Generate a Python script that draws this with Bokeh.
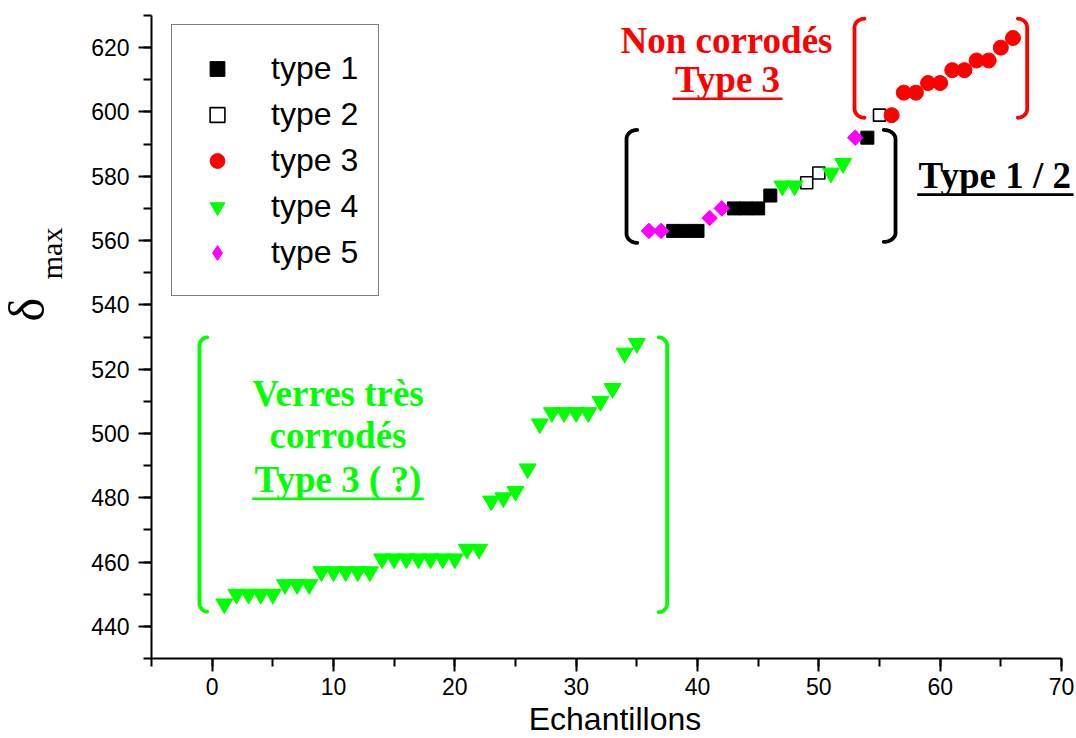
import math
from bokeh.plotting import figure
from bokeh.models import Range1d, SingleIntervalTicker
from bokeh.core.properties import value
from bokeh.embed import file_html
from bokeh.resources import INLINE

# ---------------- data ----------------
type1_x = [38, 39, 40, 43, 44, 45, 46, 54]
type1_y = [563, 563, 563, 570, 570, 570, 574, 592]

type2_x = [49, 50, 55]
type2_y = [578, 581, 599]

type3_x = [56, 57, 58, 59, 60, 61, 62, 63, 64, 65, 66]
type3_y = [599, 606, 606, 609, 609, 613, 613, 616, 616, 620, 623]

type4_x = [1, 2, 3, 4, 5, 6, 7, 8, 9, 10, 11, 12, 13, 14, 15, 16, 17, 18, 19, 20,
           21, 22, 23, 24, 25, 26, 27, 28, 29, 30, 31, 32, 33, 34, 35, 47, 48, 51, 52]
type4_y = [447, 450, 450, 450, 450, 453, 453, 453, 457, 457, 457, 457, 457,
           461, 461, 461, 461, 461, 461, 461, 464, 464, 479, 480, 482, 489, 503,
           506.5, 506.5, 506.5, 506.5, 510, 514, 525, 528, 577, 577, 581, 584]

type5_x = [36, 37, 41, 42, 53]
type5_y = [563, 563, 567, 570, 592]

x_ticks_interval = 10
y_ticks_interval = 20
x_axis_bounds = (-5, 70)
y_axis_bounds = (430, 630)

SERIF = "Liberation Serif"
SANS = "Liberation Sans"
GREEN = "#00ff00"
RED = "#ff0000"
MAGENTA = "#ff00ff"

# ---------------- figure ----------------
# the frame covers the whole canvas; axes are drawn at fixed data locations
p = figure(width=1076, height=738, output_backend="svg", toolbar_location=None,
           x_range=Range1d(-17.445, 71.236), y_range=Range1d(405.117, 634.666),
           min_border=0)
p.grid.visible = False
p.outline_line_color = None
p.background_fill_color = "white"
p.border_fill_color = "white"

p.xaxis.ticker = SingleIntervalTicker(interval=x_ticks_interval, num_minor_ticks=2)
p.yaxis.ticker = SingleIntervalTicker(interval=y_ticks_interval, num_minor_ticks=2)
p.xaxis.bounds = x_axis_bounds
p.yaxis.bounds = y_axis_bounds
p.xaxis.fixed_location = y_axis_bounds[0]
p.yaxis.fixed_location = x_axis_bounds[0]

for ax in (p.xaxis[0], p.yaxis[0]):
    ax.axis_line_width = 2
    ax.axis_line_color = "black"
    ax.major_tick_line_width = 2
    ax.minor_tick_line_width = 2
    ax.major_tick_line_color = "black"
    ax.minor_tick_line_color = "black"
    ax.major_tick_out = 13
    ax.major_tick_in = 0
    ax.minor_tick_out = 8
    ax.minor_tick_in = 0
    ax.major_label_text_font = SANS
    ax.major_label_text_font_size = "23px"
    ax.major_label_text_color = "black"
p.xaxis.major_label_standoff = 6
p.yaxis.major_label_standoff = 9

# ---------------- markers ----------------
p.scatter(type1_x, type1_y, marker="square", size=13, fill_color="black",
          line_color="black", legend_label="type 1")
p.scatter(type2_x, type2_y, marker="square", size=12, fill_color="white",
          line_color="black", line_width=1.6, legend_label="type 2")
p.scatter(type3_x, type3_y, marker="circle", size=15, fill_color=RED,
          line_color=RED, legend_label="type 3")
p.scatter(type4_x, type4_y, marker="inverted_triangle", size=17, fill_color=GREEN,
          line_color=GREEN, legend_label="type 4")
# diamond renderer carries the legend entry (legend glyphs are never rotated);
# the wider rotated square drawn on top of it gives the plotted shape
p.scatter(type5_x, type5_y, marker="diamond", size=14, fill_color=MAGENTA,
          line_color=MAGENTA, legend_label="type 5")
p.scatter(type5_x, type5_y, marker="square", angle=math.pi / 4, size=11,
          fill_color=MAGENTA, line_color=MAGENTA)

# ---------------- legend ----------------
leg = p.legend[0]
leg.location = (171, 442)
leg.label_text_font = SANS
leg.label_text_font_size = "32px"
leg.label_text_color = "black"
leg.label_text_baseline = "middle"
leg.glyph_width = 50
leg.glyph_height = 37
leg.label_height = 46
leg.spacing = 0
leg.padding = 20
leg.label_standoff = 29
leg.margin = 0
leg.border_line_color = "black"
leg.border_line_width = 1
leg.background_fill_color = "white"
leg.background_fill_alpha = 1

# ---------------- brackets ----------------
def bracket(xv, xt, yt, yb, r_px=9.0):
    ry = r_px / 3.215
    xs, ys = [], []
    n = 14
    for i in range(n + 1):
        t = (math.pi / 2) * i / n
        xs.append(xt + (xv - xt) * math.sin(t))
        ys.append(yt - ry + ry * math.cos(t))
    for i in range(n + 1):
        t = (math.pi / 2) * (n - i) / n
        xs.append(xt + (xv - xt) * math.sin(t))
        ys.append(yb + ry - ry * math.cos(t))
    return xs, ys

brackets = [
    (-1.05, -0.41, 529.9, 444.6, GREEN),
    (37.5, 36.8, 529.9, 444.4, GREEN),
    (52.94, 53.76, 629.0, 598.2, RED),
    (67.17, 66.40, 629.0, 598.2, RED),
    (34.15, 35.03, 594.4, 559.3, "black"),
    (56.32, 55.35, 594.4, 559.6, "black"),
]
for xv, xt, yt, yb, c in brackets:
    bx, by = bracket(xv, xt, yt, yb)
    p.line(bx, by, line_color=c, line_width=3.8, line_cap="round", line_join="round")

# ---------------- annotation texts ----------------
def note(x, y, txt, color, size="37px", font=SERIF, style="bold", angle=0.0):
    p.text(x=[x], y=[y], text=[txt], text_font=value(font), text_font_style=style,
           text_font_size=size, text_color=color, text_align="center",
           text_baseline="middle", angle=angle)

note(42.39, 622.2, "Non corrodés", RED)
note(42.47, 610.0, "Type 3", RED)
note(64.5, 580.2, "Type 1 / 2", "black")
note(10.37, 512.4, "Verres très", GREEN)
note(10.37, 499.4, "corrodés", GREEN)
note(10.37, 485.6, "Type 3 ( ?)", GREEN)

# underlines
p.segment(x0=[37.94], y0=[604.1], x1=[47.0], y1=[604.1], line_color=RED, line_width=2.6)
p.segment(x0=[58.11], y0=[574.3], x1=[71.0], y1=[574.3], line_color="black", line_width=2.6)
p.segment(x0=[3.30], y0=[479.7], x1=[17.44], y1=[479.7], line_color=GREEN, line_width=2.6)

# ---------------- axis titles ----------------
note(-15.3, 538.5, "δ", "black", size="50px", style="normal", angle=math.pi / 2)
note(-13.24, 556.0, "max", "black", size="30px", style="normal", angle=math.pi / 2)
note(33.2, 411.3, "Echantillons", "black", size="32px", font=SANS, style="normal")

open("out.html", "w").write(file_html(p, INLINE))
